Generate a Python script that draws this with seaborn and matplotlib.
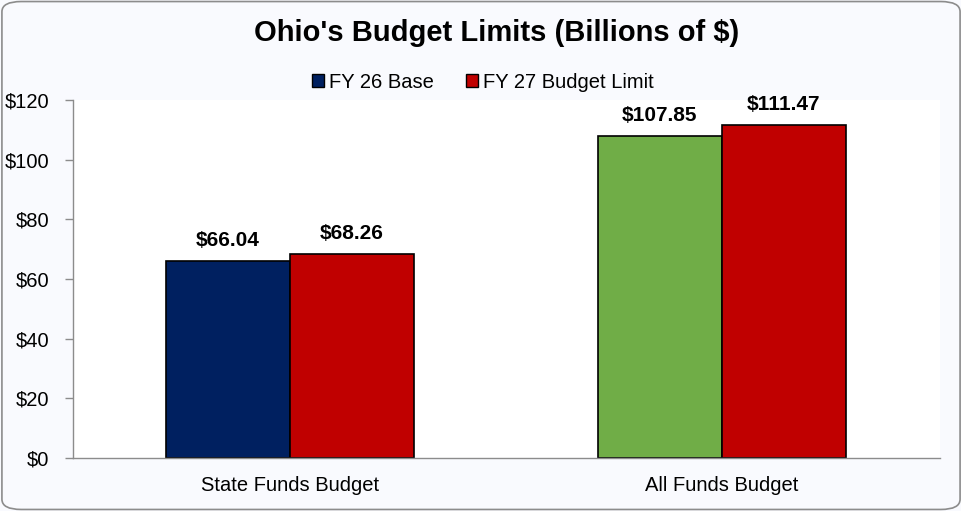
import pandas as pd
import numpy as np
import matplotlib.pyplot as plt
import seaborn as sns
from matplotlib.patches import FancyBboxPatch, Patch

categories = ["State Funds Budget", "All Funds Budget"]
series = ["FY 26 Base", "FY 27 Budget Limit"]
fy26 = [66.04, 107.85]
fy27 = [68.26, 111.47]
yticks = [0, 20, 40, 60, 80, 100, 120]

df = pd.DataFrame({
    "category": categories * 2,
    "series": [series[0]] * 2 + [series[1]] * 2,
    "value": fy26 + fy27,
})

navy = "#002060"
red = "#C00000"
green = "#70AD47"

sns.set_style("white")
plt.rcParams["font.family"] = ["Liberation Sans", "DejaVu Sans"]
plt.rcParams["text.color"] = "black"
plt.rcParams["xtick.color"] = "black"
plt.rcParams["ytick.color"] = "black"
plt.rcParams["axes.labelcolor"] = "black"

fig = plt.figure(figsize=(9.62, 5.11), dpi=100)
fig.patch.set_facecolor("#F9FAFE")
ax = fig.add_axes([73 / 962, 1 - 458 / 511, 867 / 962, 358 / 511])
ax.set_facecolor("white")

sns.barplot(data=df, x="category", y="value", hue="series", order=categories,
            hue_order=series, palette=[navy, red], width=0.574, saturation=1,
            edgecolor="black", linewidth=1.2, legend=False, ax=ax)

# second group of the base series is green in the original
bar_colors = [navy, green, red, red]
for patch, c in zip(ax.patches, bar_colors):
    patch.set_facecolor(c)

for container in ax.containers:
    ax.bar_label(container, labels=[f"${v:.2f}" for v in container.datavalues],
                 padding=8, fontsize=15, fontweight="bold")

ax.set_xlim(-0.502, 1.505)
ax.set_ylim(0, 120)
ax.set_yticks(yticks)
ax.set_yticklabels([f"${t}" for t in yticks], fontsize=14.5)
ax.tick_params(axis="x", labelsize=14.5, length=0, pad=13)
ax.tick_params(axis="y", left=True, length=6, color="#8C8C8C", width=1, pad=11,
               labelcolor="black")
ax.set_xlabel("")
ax.set_ylabel("")
for s in ["top", "right"]:
    ax.spines[s].set_visible(False)
for s in ["left", "bottom"]:
    ax.spines[s].set_color("#8C8C8C")
    ax.spines[s].set_linewidth(1)

handles = [Patch(facecolor=navy, edgecolor="black", linewidth=1),
           Patch(facecolor=red, edgecolor="black", linewidth=1)]
fig.legend(handles, series, loc="center", bbox_to_anchor=(0.502, 1 - 82 / 511),
           ncol=2, frameon=False, fontsize=14.5, handlelength=0.6, handleheight=0.6,
           handletextpad=0.25, columnspacing=1.6)

fig.text(497 / 962, 1 - 33 / 511, "Ohio's Budget Limits (Billions of $)", ha="center",
         va="center", fontsize=21, fontweight="bold")

border = FancyBboxPatch((0.002, 0.003), 0.996, 0.994, boxstyle="round,pad=0,rounding_size=0.02",
                        transform=fig.transFigure, facecolor="none", edgecolor="#8C8C8C",
                        linewidth=1.2)
fig.patches.append(border)

fig.savefig("out.png", dpi=100, facecolor=fig.get_facecolor())
